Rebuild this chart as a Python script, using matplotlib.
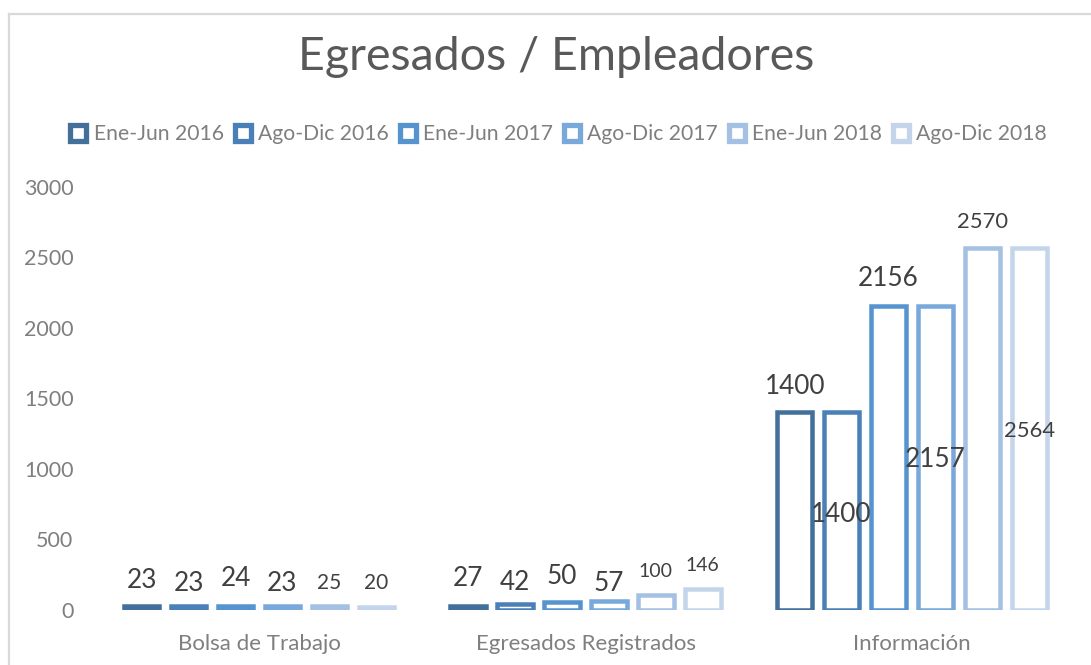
import numpy as np
import matplotlib
matplotlib.use("Agg")
import matplotlib.pyplot as plt
from matplotlib.lines import Line2D

plt.rcParams['font.family'] = ['Lato', 'DejaVu Sans']

# data
categories = ["Bolsa de Trabajo", "Egresados Registrados", "Información"]
series_names = ["Ene-Jun 2016", "Ago-Dic 2016", "Ene-Jun 2017",
                "Ago-Dic 2017", "Ene-Jun 2018", "Ago-Dic 2018"]
ene_jun_2016 = [23, 27, 1400]
ago_dic_2016 = [23, 42, 1400]
ene_jun_2017 = [24, 50, 2156]
ago_dic_2017 = [23, 57, 2157]
ene_jun_2018 = [25, 100, 2570]
ago_dic_2018 = [20, 146, 2564]
y_ticks = [0, 500, 1000, 1500, 2000, 2500, 3000]

series_values = [ene_jun_2016, ago_dic_2016, ene_jun_2017,
                 ago_dic_2017, ene_jun_2018, ago_dic_2018]

# style
colors = ['#43709B', '#4A80B7', '#5594CF', '#79A9DA', '#A4C1E3', '#C4D5EB']
# label centre offset above the bar top, in pixels (negative = inside the bar)
label_offsets = [
    [28, 29, 28],
    [25, 23, -100],
    [29, 28, 29],
    [25, 20, -152],
    [24, 25, 27],
    [25, 25, -181],
]
label_sizes = [
    [18.8, 18.8, 18.8],
    [18.8, 18.8, 18.8],
    [18.8, 18.8, 18.8],
    [18.8, 18.8, 18.8],
    [15.0, 14.0, 15.8],
    [15.0, 14.0, 15.8],
]

W, H, DPI = 1091, 665, 100
fig = plt.figure(figsize=(W / DPI, H / DPI), dpi=DPI)
fig.patch.set_facecolor('white')

ax = fig.add_axes([95.75 / W, (H - 609.5) / H, 979.5 / W, 422.5 / H])
ax.set_xlim(-0.5, 2.5)
ax.set_ylim(0, 3000)

x = np.arange(len(categories))
pitch = 0.1437
lw_px = 4.5
width = (40 - lw_px) / 326.5

for i, (name, vals) in enumerate(zip(series_names, series_values)):
    xs = x + (i - 2.5) * pitch
    ax.bar(xs, vals, width=width, facecolor='white', edgecolor=colors[i],
           linewidth=lw_px * 72 / DPI, label=name, zorder=2)
    for j, v in enumerate(vals):
        fs = label_sizes[i][j]
        off = label_offsets[i][j] * 72 / DPI - 0.358 * fs
        ax.annotate(str(v), xy=(xs[j], v), xytext=(0, off),
                    textcoords='offset points', ha='center', va='baseline',
                    fontsize=fs, color='#404040', zorder=3)

for s in ax.spines.values():
    s.set_visible(False)
ax.set_yticks(y_ticks)
ax.set_xticks(x)
ax.set_xticklabels(categories)
ax.tick_params(axis='y', length=0, labelsize=15.5, colors='#7F7F7F', pad=16)
ax.tick_params(axis='x', length=0, labelsize=16, colors='#7F7F7F', pad=18)

# title
fig.text(556 / W, 1 - 70.5 / H, "Egresados / Empleadores", ha='center',
         va='baseline', fontsize=33.5, color='#595959')

# legend
handles = [Line2D([], [], marker='s', linestyle='none', markersize=11,
                  markerfacecolor='white', markeredgecolor=c,
                  markeredgewidth=3.8) for c in colors]
fig.legend(handles, series_names, loc='center',
           bbox_to_anchor=(558.5 / W, 1 - 134 / H), ncol=6, frameon=False,
           fontsize=15.2, handlelength=0.8, handletextpad=0.32,
           columnspacing=0.5, labelcolor='#7F7F7F', borderaxespad=0)

# outer chart border (cut off at right/bottom)
border = '#D9D9D9'
fig.add_artist(Line2D([8.5 / W, 8.5 / W], [0, 1 - 14 / H],
                      transform=fig.transFigure, color=border, lw=1.6))
fig.add_artist(Line2D([8.5 / W, 1], [1 - 14 / H, 1 - 14 / H],
                      transform=fig.transFigure, color=border, lw=1.6))

fig.savefig("out.png", dpi=DPI, facecolor='white')
